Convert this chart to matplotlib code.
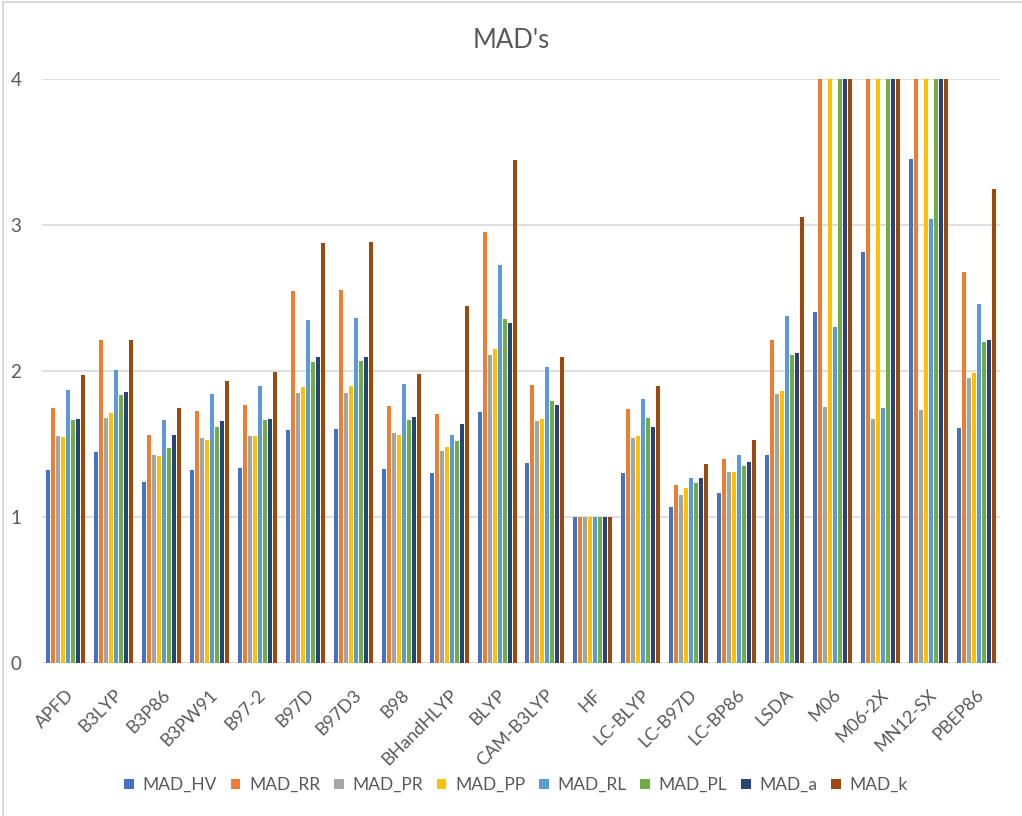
import matplotlib
matplotlib.use("Agg")
import matplotlib.pyplot as plt
import numpy as np
from matplotlib.lines import Line2D
from matplotlib.patches import Patch

plt.rcParams['font.family'] = ['Lato', 'DejaVu Sans']

categories = ["APFD", "B3LYP", "B3P86", "B3PW91", "B97-2", "B97D", "B97D3", "B98",
              "BHandHLYP", "BLYP", "CAM-B3LYP", "HF", "LC-BLYP", "LC-B97D", "LC-BP86",
              "LSDA", "M06", "M06-2X", "MN12-SX", "PBEP86"]

series_names = ["MAD_HV", "MAD_RR", "MAD_PR", "MAD_PP", "MAD_RL", "MAD_PL", "MAD_a", "MAD_k"]

# values above the 4.0 axis cap are shown truncated at 4.0
mad_hv = [1.32, 1.445, 1.24, 1.32, 1.335, 1.595, 1.60, 1.33, 1.30, 1.72, 1.37, 1.0, 1.30, 1.07, 1.165, 1.425, 2.405, 2.815, 3.45, 1.61]
mad_rr = [1.75, 2.21, 1.56, 1.725, 1.77, 2.55, 2.555, 1.76, 1.705, 2.95, 1.905, 1.0, 1.74, 1.22, 1.40, 2.21, 4.0, 4.0, 4.0, 2.68]
mad_pr = [1.555, 1.68, 1.425, 1.54, 1.555, 1.85, 1.85, 1.575, 1.45, 2.11, 1.66, 1.0, 1.54, 1.15, 1.31, 1.84, 1.755, 1.67, 1.73, 1.95]
mad_pp = [1.55, 1.71, 1.42, 1.53, 1.555, 1.89, 1.895, 1.56, 1.48, 2.15, 1.67, 1.0, 1.555, 1.20, 1.31, 1.86, 4.0, 4.0, 4.0, 1.985]
mad_rl = [1.87, 2.01, 1.665, 1.84, 1.90, 2.35, 2.36, 1.91, 1.56, 2.725, 2.03, 1.0, 1.81, 1.27, 1.425, 2.38, 2.30, 1.745, 3.04, 2.46]
mad_pl = [1.665, 1.835, 1.47, 1.615, 1.665, 2.06, 2.07, 1.665, 1.52, 2.355, 1.795, 1.0, 1.68, 1.23, 1.35, 2.11, 4.0, 4.0, 4.0, 2.20]
mad_a = [1.67, 1.855, 1.56, 1.66, 1.67, 2.095, 2.095, 1.685, 1.64, 2.33, 1.77, 1.0, 1.615, 1.27, 1.375, 2.12, 4.0, 4.0, 4.0, 2.21]
mad_k = [1.97, 2.21, 1.745, 1.93, 1.99, 2.875, 2.885, 1.98, 2.445, 3.445, 2.095, 1.0, 1.895, 1.36, 1.53, 3.055, 4.0, 4.0, 4.0, 3.25]

y_ticks = [0, 1, 2, 3, 4]
title = "MAD's"

all_series = [mad_hv, mad_rr, mad_pr, mad_pp, mad_rl, mad_pl, mad_a, mad_k]
colors = ["#4472C4", "#ED7D31", "#A5A5A5", "#FFC000", "#5B9BD5", "#70AD47", "#264478", "#9E480E"]

W, H = 1022, 816
fig = plt.figure(figsize=(W / 100, H / 100), dpi=100)
ax = fig.add_axes([42 / W, 1 - 663 / H, (1000 - 42) / W, (663 - 79) / H])

x = np.arange(len(categories))
step = 5 / 47.9
bw = 4 / 47.9
for i, (vals, c, name) in enumerate(zip(all_series, colors, series_names)):
    ax.bar(x + (i - 3.5) * step, vals, width=bw, color=c, label=name, zorder=3)

ax.set_xlim(-0.5, len(categories) - 0.5)
ax.set_ylim(0, 4)
ax.set_yticks(y_ticks)
ax.set_yticklabels([str(t) for t in y_ticks])
ax.grid(axis='y', color='#d9d9d9', linewidth=1.2, zorder=0)
ax.set_axisbelow(True)
for s in ax.spines.values():
    s.set_visible(False)
ax.tick_params(axis='both', length=0, colors='#595959', labelsize=13)
ax.tick_params(axis='y', pad=15, labelsize=13.5)
ax.set_xticks(x)
ax.set_xticklabels(categories, rotation=45, ha='right', rotation_mode='anchor')
ax.tick_params(axis='x', pad=17)

fig.text(0.5, 1 - 40 / H, title, ha='center', va='center', fontsize=18.5, color='#595959')

handles = [Patch(facecolor=c, edgecolor='none') for c in colors]
fig.legend(handles, series_names, loc='center', bbox_to_anchor=(0.505, 1 - 785 / H), ncol=8,
           frameon=False, fontsize=12.5, handlelength=0.55, handleheight=0.55,
           handletextpad=0.5, columnspacing=0.8, labelcolor='#595959')

# chart-area border (left and top edges visible)
fig.add_artist(Line2D([3 / W, 3 / W], [0, 1 - 2 / H], color='#d9d9d9', linewidth=1.5))
fig.add_artist(Line2D([3 / W, 1], [1 - 2 / H, 1 - 2 / H], color='#d9d9d9', linewidth=1.5))

fig.savefig("out.png", dpi=100, facecolor='white')
